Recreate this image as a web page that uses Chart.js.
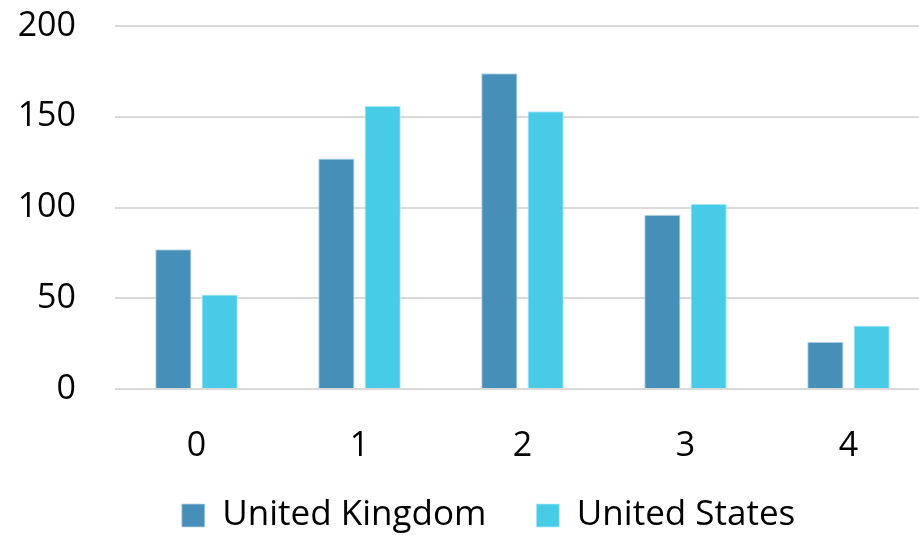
<!DOCTYPE html>
<html>
<head>
<meta charset="utf-8">
<script src="https://cdn.jsdelivr.net/npm/chart.js@4.4.1/dist/chart.umd.min.js"></script>
<style>
  html, body { margin: 0; padding: 0; background: #ffffff; overflow: hidden; }
  #wrap { position: absolute; left: 0; top: 0; width: 932px; height: 575px; }
</style>
</head>
<body>
<div id="wrap"><canvas id="chart"></canvas></div>
<script>
// Category labels along the x axis
const categories = ['0', '1', '2', '3', '4'];

// Series values
const unitedKingdom = [77, 127, 174, 96, 26];
const unitedStates = [52, 156, 153, 102, 35];

// Value axis ticks
const yTicks = [0, 50, 100, 150, 200];

const FONT = '"Open Sans", "Noto Sans", sans-serif';

// Nudges the legend block so it sits centred under the labels
const legendOffset = {
  id: 'legendOffset',
  afterLayout(chart, args, opts) {
    const lg = chart.legend;
    if (!lg) return;
    lg.left += opts.dx; lg.right += opts.dx;
    lg.top += opts.dy; lg.bottom += opts.dy;
  }
};

new Chart(document.getElementById('chart'), {
  type: 'bar',
  data: {
    labels: categories,
    datasets: [
      {
        label: 'United Kingdom',
        data: unitedKingdom,
        backgroundColor: '#468fb8',
        borderColor: '#b9d6e7',
        borderWidth: { top: 1, left: 1, right: 1, bottom: 0 },
        categoryPercentage: 0.568,
        barPercentage: 0.784
      },
      {
        label: 'United States',
        data: unitedStates,
        backgroundColor: '#48cbe7',
        borderColor: '#b4ebf6',
        borderWidth: { top: 1, left: 1, right: 1, bottom: 0 },
        categoryPercentage: 0.568,
        barPercentage: 0.784
      }
    ]
  },
  plugins: [legendOffset],
  options: {
    responsive: true,
    maintainAspectRatio: false,
    animation: false,
    layout: { padding: { left: 17, right: 2, top: 26, bottom: 0 } },
    scales: {
      x: {
        grid: { display: false, drawTicks: false },
        border: { display: false },
        ticks: {
          color: '#000000',
          font: { family: FONT, size: 34 },
          padding: 37
        },
        afterFit(axis) {
          axis.height = 91;
          axis.paddingLeft = 0;
          axis.paddingRight = 0;
        }
      },
      y: {
        min: 0,
        max: 200,
        afterBuildTicks: (axis) => { axis.ticks = yTicks.map(v => ({ value: v })); },
        grid: { color: '#d9d9d9', lineWidth: 2, drawTicks: false },
        border: { display: false },
        ticks: {
          color: '#000000',
          font: { family: FONT, size: 34 },
          padding: 39
        },
        afterFit(axis) {
          axis.width = 98;
          axis.paddingTop = 0;
          axis.paddingBottom = 0;
        }
      }
    },
    plugins: {
      tooltip: { enabled: false },
      legendOffset: { dx: 15, dy: -32 },
      legend: {
        position: 'bottom',
        labels: {
          color: '#000000',
          font: { family: FONT, size: 35 },
          boxWidth: 23,
          boxHeight: 23,
          padding: 50
        }
      }
    }
  }
});
</script>
</body>
</html>
